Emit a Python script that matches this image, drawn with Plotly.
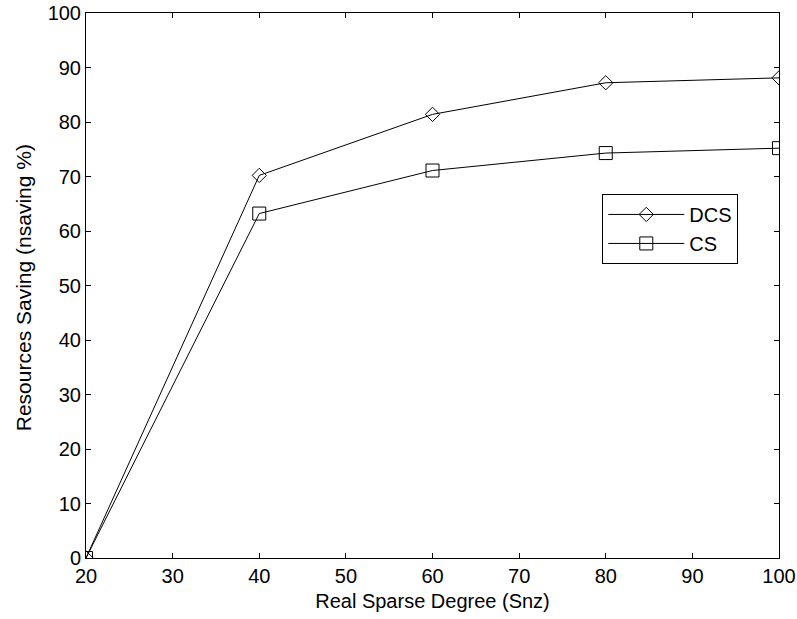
import plotly.graph_objects as go

x_vals = [20, 40, 60, 80, 100]
dcs = [0, 70.2, 81.4, 87.2, 88.1]
cs = [0, 63.2, 71.1, 74.3, 75.2]
x_ticks = [20, 30, 40, 50, 60, 70, 80, 90, 100]
y_ticks = [0, 10, 20, 30, 40, 50, 60, 70, 80, 90, 100]

FONT = "Liberation Sans, Arial, sans-serif"
FS = 20

fig = go.Figure()
fig.add_trace(go.Scatter(
    x=x_vals, y=dcs, name="DCS", mode="lines+markers",
    line=dict(color="black", width=1),
    marker=dict(symbol="diamond-open", size=11, color="black", line=dict(width=1, color="black")),
))
fig.add_trace(go.Scatter(
    x=x_vals, y=cs, name="CS", mode="lines+markers",
    line=dict(color="black", width=1),
    marker=dict(symbol="square-open", size=13, color="black", line=dict(width=1, color="black")),
))

axis_common = dict(
    showline=True, linecolor="black", linewidth=1, mirror="ticks",
    ticks="inside", ticklen=5, tickcolor="black", tickwidth=1,
    showgrid=False, zeroline=False, automargin=False,
    tickfont=dict(family=FONT, size=FS, color="black"),
)

fig.update_layout(
    width=797, height=619,
    margin=dict(l=86, r=18, t=13, b=61, autoexpand=False),
    paper_bgcolor="white", plot_bgcolor="white",
    font=dict(family=FONT, size=FS, color="black"),
    showlegend=True,
    legend=dict(
        x=0.745, y=0.668, xanchor="left", yanchor="top",
        bordercolor="black", borderwidth=1, bgcolor="white",
        font=dict(family=FONT, size=FS, color="black"),
        itemwidth=76, tracegroupgap=0,
    ),
    xaxis=dict(
        range=[20, 100], tickvals=x_ticks,
        title=dict(text="Real Sparse Degree (Snz)", font=dict(family=FONT, size=FS), standoff=7),
        **axis_common,
    ),
    yaxis=dict(
        range=[0, 100], tickvals=y_ticks,
        **axis_common,
    ),
    annotations=[dict(
        text="Resources Saving (nsaving %)", textangle=-90,
        xref="paper", yref="paper", x=-(86 - 23) / 693, y=0.495,
        xanchor="center", yanchor="middle", showarrow=False,
        font=dict(family=FONT, size=21, color="black"),
    )],
)

fig.write_html("out.html")
